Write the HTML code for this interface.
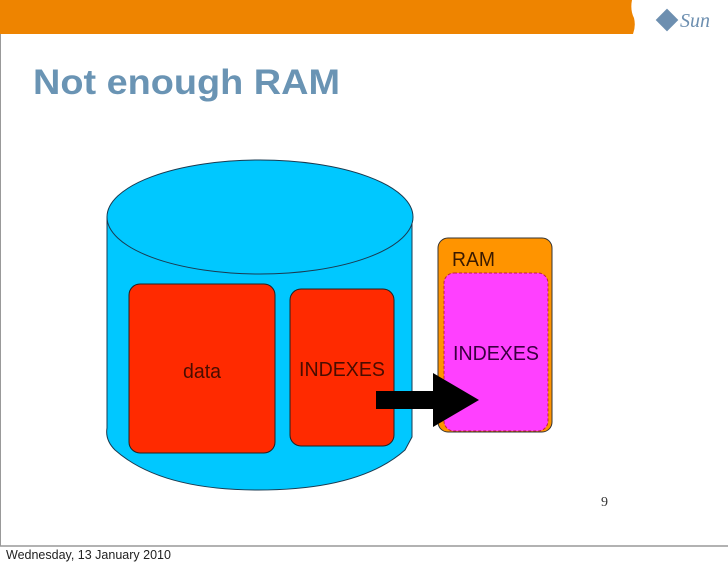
<!DOCTYPE html>
<html><head><style>
html,body{margin:0;padding:0;background:#fff;width:728px;height:567px;overflow:hidden}
</style></head><body>
<svg width="728" height="567" viewBox="0 0 728 567" xmlns="http://www.w3.org/2000/svg" style="position:absolute;left:0;top:0">
<rect x="0" y="0" width="728" height="567" fill="#fff"/>
<path d="M0 0 H632 Q630 10 634 18 Q636 26 633 34 H0 Z" fill="#ee8400"/>
<line x1="0.5" y1="34" x2="0.5" y2="546" stroke="#999" stroke-width="1"/>
<line x1="0" y1="546" x2="728" y2="546" stroke="#999" stroke-width="1.5"/>
<g transform="translate(667,20)">
<rect x="-8" y="-8" width="16" height="16" transform="rotate(45)" fill="#6d8fb0"/>
</g>
<text x="680" y="27" font-family="Liberation Serif,serif" font-style="italic" font-size="20" fill="#6d8fb0">Sun</text>
<text x="33" y="94" font-family="Liberation Sans,sans-serif" font-weight="bold" font-size="35" fill="#6a94b4" textLength="307" lengthAdjust="spacingAndGlyphs">Not enough RAM</text>
<!-- cylinder -->
<path d="M107 217 V428 Q105 440 115 450 Q160 490 258 490 Q360 490 405 450 L412 437 V217 Z" fill="#00c8ff" stroke="#1a3a50" stroke-width="1"/>
<ellipse cx="260" cy="217" rx="153" ry="57" fill="#00c8ff" stroke="#1a3a50" stroke-width="1"/>
<rect x="129" y="284" width="146" height="169" rx="11" fill="#ff2a00" stroke="#222" stroke-width="1"/>
<rect x="290" y="289" width="104" height="157" rx="11" fill="#ff2a00" stroke="#222" stroke-width="1"/>
<text x="183" y="378" font-family="Liberation Sans,sans-serif" font-size="20" fill="#4a0d00" textLength="38" lengthAdjust="spacingAndGlyphs">data</text>
<text x="299" y="376" font-family="Liberation Sans,sans-serif" font-size="20" fill="#4a0d00" textLength="86" lengthAdjust="spacingAndGlyphs">INDEXES</text>
<!-- RAM -->
<rect x="438" y="238" width="114" height="194" rx="10" fill="#ff9400" stroke="#333" stroke-width="1"/>
<text x="452" y="266" font-family="Liberation Sans,sans-serif" font-size="20" fill="#3a1a00" textLength="43" lengthAdjust="spacingAndGlyphs">RAM</text>
<rect x="444" y="273" width="104" height="158" rx="10" fill="#ff40ff" stroke="#c02040" stroke-width="1" stroke-dasharray="3,2"/>
<text x="453" y="360" font-family="Liberation Sans,sans-serif" font-size="20" fill="#3a0040" textLength="86" lengthAdjust="spacingAndGlyphs">INDEXES</text>
<!-- arrow -->
<path d="M376 391 H433 V373 L479 400 L433 427 V409 H376 Z" fill="#000"/>
<text x="601" y="506" font-family="Liberation Serif,serif" font-size="14" fill="#333">9</text>
<text x="6" y="559" font-family="Liberation Sans,sans-serif" font-size="12.5" fill="#222">Wednesday, 13 January 2010</text>
</svg>
</body></html>
